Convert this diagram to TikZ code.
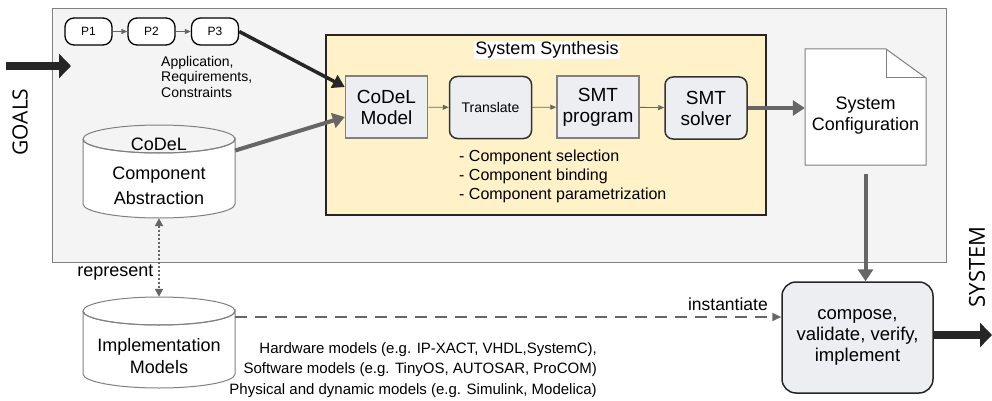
\documentclass[tikz,border=0pt]{standalone}
\usepackage{fontspec}
\setmainfont{Liberation Sans}
\newfontfamily\sidefont{Open Sans}
\usetikzlibrary{positioning, arrows.meta}
\definecolor{framegray}{HTML}{F4F4F4}
\definecolor{synthyellow}{HTML}{FFF2C8}
\definecolor{boxfill}{HTML}{ECEEF2}
\definecolor{linegray}{HTML}{666666}

\begin{document}
\begin{tikzpicture}[x=1pt, y=-1pt,
    phase/.style={draw, line width=1.3pt, rounded corners=9pt, fill=white,
      minimum width=47pt, minimum height=27pt, inner sep=0pt,
      font=\fontsize{12}{14}\selectfont},
    flatbox/.style={draw=gray, line width=1.5pt, fill=boxfill, inner sep=0pt,
      minimum width=82pt, minimum height=62pt, align=center,
      font=\fontsize{19}{21}\selectfont},
    roundbox/.style={flatbox, draw=black!80, rounded corners=8pt},
    thin/.style={draw=linegray, line width=0.9pt, -{Triangle[length=6pt,width=5pt]}},
    thick/.style={draw=linegray, line width=4pt, -{Triangle[length=12pt,width=15pt]}},
    fat/.style={draw=black!85, line width=8pt, -{Triangle[length=12pt,width=24pt]}},
    plain/.style={align=center, inner sep=0pt}]
  \useasboundingbox (0,0) rectangle (992,401);

  \draw[draw=gray, fill=framegray, line width=0.9pt] (52,8) rectangle (946,262);

  \coordinate (goalsin) at (6,66);
  \coordinate (goalsend) at (71,66);
  \draw[fat] (goalsin) -- (goalsend);
  \node[rotate=90, font=\sidefont\fontsize{21}{21}\selectfont] (goals) at (20,122) {GOALS};

  \node[phase] (p1) at (88.5,31.5) {P1};
  \node[phase] (p2) at (151.5,31.5) {P2};
  \node[phase] (p3) at (215,31.5) {P3};
  \draw[thin] (p1) -- (p2);
  \draw[thin] (p2) -- (p3);
  \node[anchor=north west, align=left, inner sep=0pt,
    font=\fontsize{14}{15.5}\selectfont] (appl) at (161,56)
    {Application,\\Requirements,\\Constraints};

  \node[draw=black!85, line width=1.6pt, fill=synthyellow,
    minimum width=440pt, minimum height=180pt] (synth) at (546,125) {};
  \node[fill=white, inner sep=1pt, font=\fontsize{18}{20}\selectfont] (synthtitle)
    at (547,50) {System Synthesis};

  \node[flatbox] (model) at (386.5,107) {CoDeL\\Model};
  \node[roundbox, font=\fontsize{14}{16}\selectfont] (translate) at (490.5,107.5) {Translate};
  \node[flatbox] (program) at (598,107) {SMT\\program};
  \node[roundbox] (solver) at (706,108) {SMT\\solver};
  \draw[thin] (model) -- (translate);
  \draw[thin] (translate) -- (program);
  \draw[thin] (program) -- (solver);
  \node[anchor=north west, align=left, inner sep=0pt,
    font=\fontsize{16}{19}\selectfont] (tasks) at (459,150)
    {- Component selection\\- Component binding\\- Component parametrization};

  \draw[draw=gray, fill=white, line width=1pt]
    (805,49) -- (886,49) -- (926,78) -- (926,165) -- (805,165) -- cycle;
  \draw[draw=gray, line width=1pt] (886,49) -- (886,78) -- (926,78);
  \node[plain, minimum width=121pt, minimum height=116pt,
    font=\fontsize{18}{21}\selectfont] (config) at (865.5,116) {System\\Configuration};

  \draw[draw=gray, fill=white, line width=1pt]
    (83,139) -- (83,204) arc[start angle=180, end angle=0, x radius=76, y radius=14]
    -- (235,139) arc[start angle=0, end angle=180, x radius=76, y radius=14];
  \draw[draw=gray, line width=1pt] (159,139) ellipse[x radius=76, y radius=14];
  \node[plain, minimum width=152pt, minimum height=93pt,
    font=\fontsize{18}{25}\selectfont] (abstraction) at (159,171.5)
    {CoDeL\\[4pt]Component\\Abstraction};

  \draw[draw=gray, fill=white, line width=1pt]
    (83,311) -- (83,374) arc[start angle=180, end angle=0, x radius=76, y radius=14]
    -- (235,311) arc[start angle=0, end angle=180, x radius=76, y radius=14];
  \draw[draw=gray, line width=1pt] (159,311) ellipse[x radius=76, y radius=14];
  \node[plain, minimum width=152pt, minimum height=91pt] (impl) at (159,342.5) {};
  \node[plain, font=\fontsize{18}{22}\selectfont] (impltext) at (159,356)
    {Implementation\\Models};

  \node[draw=black!85, line width=1.5pt, fill=boxfill, rounded corners=14pt,
    minimum width=151pt, minimum height=111pt, align=center,
    font=\fontsize{18.5}{21}\selectfont] (compose) at (857.5,337.5)
    {compose,\\validate, verify,\\implement};

  \draw[draw=black!85, line width=3.5pt, -{Triangle[length=12pt,width=14pt]}]
    (p3.east) -- ([yshift=20pt]model.west);
  \draw[thick] ([yshift=21pt]abstraction.east) -- ([yshift=-10pt]model.west);
  \draw[thick] (solver.east) -- (config.west |- solver.east);
  \draw[thick] (config.south) -- (config.south |- compose.north);

  \draw[draw=linegray, line width=2pt, dotted,
    {Triangle[length=8pt,width=8pt]}-{Triangle[length=8pt,width=8pt]}]
    (abstraction.south) -- (impl.north);
  \node[anchor=east, font=\fontsize{18}{20}\selectfont] (represent) at (157,273) {represent};

  \draw[draw=linegray, line width=1.8pt, dash pattern=on 12pt off 8pt,
    -{Triangle[length=9pt,width=8pt]}]
    ([yshift=25.5pt]impl.east) -- ([yshift=20.5pt]compose.west);
  \node[anchor=east, inner sep=0pt, font=\fontsize{17.5}{19}\selectfont] (instantiate)
    at (768,304) {instantiate};

  \node[anchor=north east, align=right, inner sep=0pt,
    font=\fontsize{15}{20.5}\selectfont] (modellist) at (597,342)
    {Hardware models (e.g. IP-XACT, VHDL,SystemC),\\
     Software models (e.g. TinyOS, AUTOSAR, ProCOM)\\
     Physical and dynamic models (e.g. Simulink, Modelica)};

  \coordinate (systemout) at (992,335);
  \draw[fat, line width=8pt] (compose.east |- systemout) -- (systemout);
  \node[rotate=90, font=\sidefont\fontsize{22}{22}\selectfont] (system) at (977,267) {SYSTEM};
\end{tikzpicture}
\end{document}
